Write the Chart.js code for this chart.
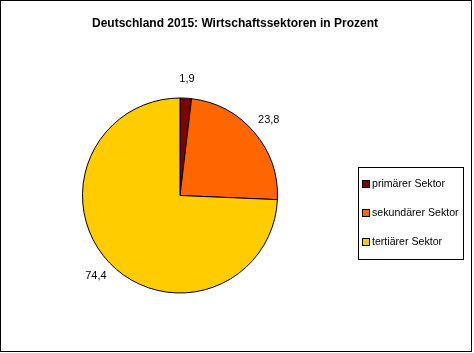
<!DOCTYPE html>
<html>
<head>
<meta charset="utf-8">
<script src="https://cdn.jsdelivr.net/npm/chart.js@4/dist/chart.umd.min.js"></script>
<style>
  body { margin: 0; background: #fff; }
  canvas { display: block; }
</style>
</head>
<body>
<canvas id="pieChart" width="474" height="353"></canvas>
<script>
var titleText = 'Deutschland 2015: Wirtschaftssektoren in Prozent';
var sectors = ['primärer Sektor', 'sekundärer Sektor', 'tertiärer Sektor'];
var shares = [1.9, 23.8, 74.4];
var sectorColors = ['#800000', '#FF6600', '#FFCC00'];

var font = '"Liberation Sans", Arial, sans-serif';

// frame, title, value labels and boxed legend
var decorations = {
    id: 'decorations',
    afterDraw: function (chart) {
        var ctx = chart.ctx;
        ctx.save();
        ctx.strokeStyle = '#000';
        ctx.lineWidth = 1;
        ctx.strokeRect(0.5, 0.5, 471, 351);

        ctx.fillStyle = '#000';
        ctx.textAlign = 'center';
        ctx.textBaseline = 'middle';
        ctx.font = 'bold 12px ' + font;
        ctx.fillText(titleText, 235, 24);

        // value labels outside each slice
        ctx.font = '11px ' + font;
        var meta = chart.getDatasetMeta(0);
        meta.data.forEach(function (arc, i) {
            var p = arc.getProps(['x', 'y', 'startAngle', 'endAngle', 'outerRadius'], true);
            var mid = (p.startAngle + p.endAngle) / 2;
            var r = p.outerRadius + 19;
            var label = String(shares[i]).replace('.', ',');
            ctx.fillText(label, p.x + Math.cos(mid) * r, p.y + Math.sin(mid) * r);
        });

        // legend
        ctx.font = '10.6px ' + font;
        ctx.strokeRect(358.5, 167.5, 105, 92);
        ctx.textAlign = 'left';
        sectors.forEach(function (name, i) {
            var y = 184 + i * 29;
            ctx.fillStyle = sectorColors[i];
            ctx.fillRect(362.5, y - 3.5, 7, 7);
            ctx.strokeRect(362.5, y - 3.5, 7, 7);
            ctx.fillStyle = '#000';
            ctx.fillText(name, 372, y);
        });
        ctx.restore();
    }
};

var pie = new Chart(document.getElementById('pieChart'), {
    type: 'pie',
    data: {
        labels: sectors,
        datasets: [{
            data: shares,
            backgroundColor: sectorColors,
            borderColor: '#000',
            borderWidth: 1
        }]
    },
    options: {
        responsive: false,
        animation: false,
        layout: {
            padding: { left: 82, right: 196, top: 97, bottom: 59 }
        },
        plugins: {
            legend: { display: false },
            title: { display: false },
            tooltip: { enabled: false }
        }
    },
    plugins: [decorations]
});
</script>
</body>
</html>
